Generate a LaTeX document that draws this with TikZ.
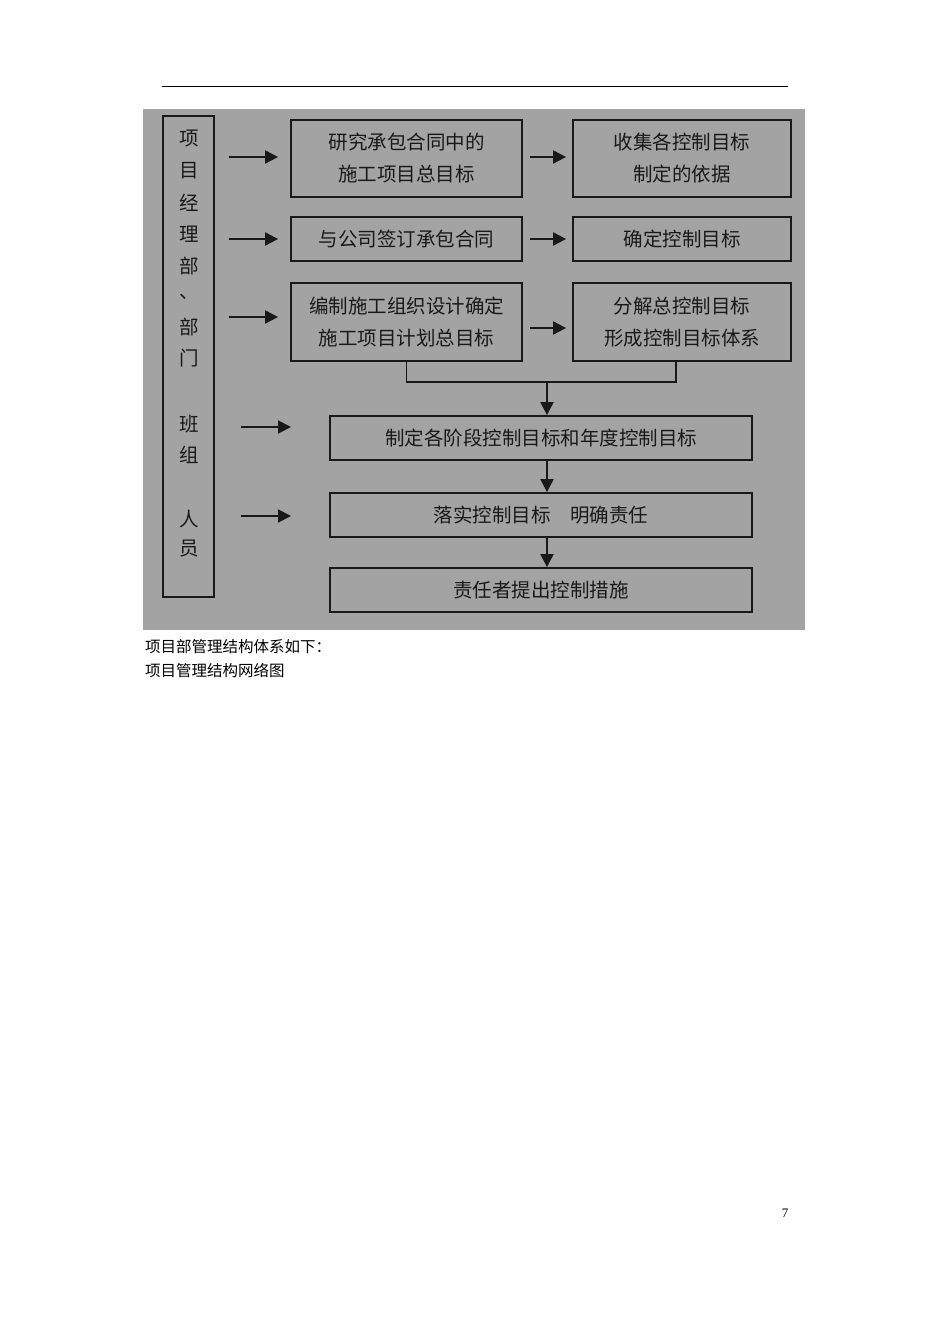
\documentclass[tikz,border=0pt]{standalone}
\usepackage{fontspec}
\newfontfamily\cjk{Noto Sans CJK SC}
\setmainfont{Liberation Serif}
\usetikzlibrary{arrows.meta}
\definecolor{bggray}{RGB}{163,163,163}
\definecolor{ink}{RGB}{25,25,25}
\tikzset{
  box/.style={draw=ink, line width=1.8pt, inner sep=0pt, text=ink, align=center,
    font=\cjk\fontsize{19.5}{32}\selectfont},
  arr/.style={draw=ink, line width=2pt, -{Triangle[length=13pt,width=13pt]}},
  col/.style={inner sep=0pt, text=ink, font=\cjk\fontsize{19.5}{22}\selectfont},
  captext/.style={inner sep=0pt, anchor=west, font=\cjk\fontsize{15.5}{18}\selectfont}
}
\begin{document}
\begin{tikzpicture}[x=1pt,y=-1pt]
\useasboundingbox (0,0) rectangle (950,1344);
\fill[white] (0,0) rectangle (950,1344);
\draw[line width=0.8pt] (162,86) coordinate (r1) -- (788,86) coordinate (r2);
\fill[bggray] (143,109) rectangle (805,630);

\node[box, minimum width=51pt, minimum height=481pt] (L) at (188.5,356.5) {};
\foreach \ch/\yy [count=\i] in {项/139,目/171,经/203,理/234,部/266,、/297,部/327,门/358,班/424,组/455,人/519,员/549}
  \node[col] (l\i) at (189,\yy) {\ch};

\node[box, minimum width=231pt, minimum height=77pt] (A1) at (406.5,158.5) {研究承包合同中的\\施工项目总目标};
\node[box, minimum width=218pt, minimum height=77pt] (A2) at (682,158.5) {收集各控制目标\\制定的依据};
\node[box, minimum width=231pt, minimum height=44pt] (B1) at (406.5,239) {与公司签订承包合同};
\node[box, minimum width=218pt, minimum height=44pt] (B2) at (682,239) {确定控制目标};
\node[box, minimum width=231pt, minimum height=78pt] (C1) at (406.5,322) {编制施工组织设计确定\\施工项目计划总目标};
\node[box, minimum width=218pt, minimum height=78pt] (C2) at (682,322) {分解总控制目标\\形成控制目标体系};
\node[box, minimum width=422pt, minimum height=44pt] (D) at (541,438) {制定各阶段控制目标和年度控制目标};
\node[box, minimum width=422pt, minimum height=44pt] (E) at (541,515) {落实控制目标\quad 明确责任};
\node[box, minimum width=422pt, minimum height=44pt] (F) at (541,590) {责任者提出控制措施};

% left arrows
\draw[arr, shorten <=14pt, shorten >=12pt] ([yshift=1.5pt]L.east |- A1.west) -- ([yshift=1.5pt]A1.west);
\draw[arr, shorten <=14pt, shorten >=12pt] (L.east |- B1.west) -- (B1.west);
\draw[arr, shorten <=14pt, shorten >=12pt] ([yshift=5pt]L.east |- C1.west) -- ([yshift=5pt]C1.west);
\coordinate (dS) at (241,427); \coordinate (dE) at (291,427);
\coordinate (eS) at (241,516); \coordinate (eE) at (291,516);
\draw[arr] (dS) -- (dE);
\draw[arr] (eS) -- (eE);

% middle arrows
\draw[arr, shorten <=7pt, shorten >=6pt] ([yshift=1.5pt]A1.east) -- ([yshift=1.5pt]A2.west);
\draw[arr, shorten <=7pt, shorten >=6pt] (B1.east) -- (B2.west);
\draw[arr, shorten <=7pt, shorten >=6pt] ([yshift=-6pt]C1.east) -- ([yshift=-6pt]C2.west);

% bracket
\coordinate (br) at (547,382);
\draw[draw=ink, line width=1.8pt] (C1.south) |- ([xshift=-6pt]C2.south |- br) -- ([xshift=-6pt]C2.south);
\draw[arr] (br) -- (br |- D.north);
\draw[arr] ([xshift=6pt]D.south) -- ([xshift=6pt]E.north);
\draw[arr] ([xshift=6pt]E.south) -- ([xshift=6pt]F.north);

\node[captext] (c1) at (145,647) {项目部管理结构体系如下：};
\node[captext] (c2) at (145,671) {项目管理结构网络图};
\node[inner sep=0pt, font=\fontsize{13}{15}\selectfont] (pg) at (785,1213) {7};
\end{tikzpicture}
\end{document}
